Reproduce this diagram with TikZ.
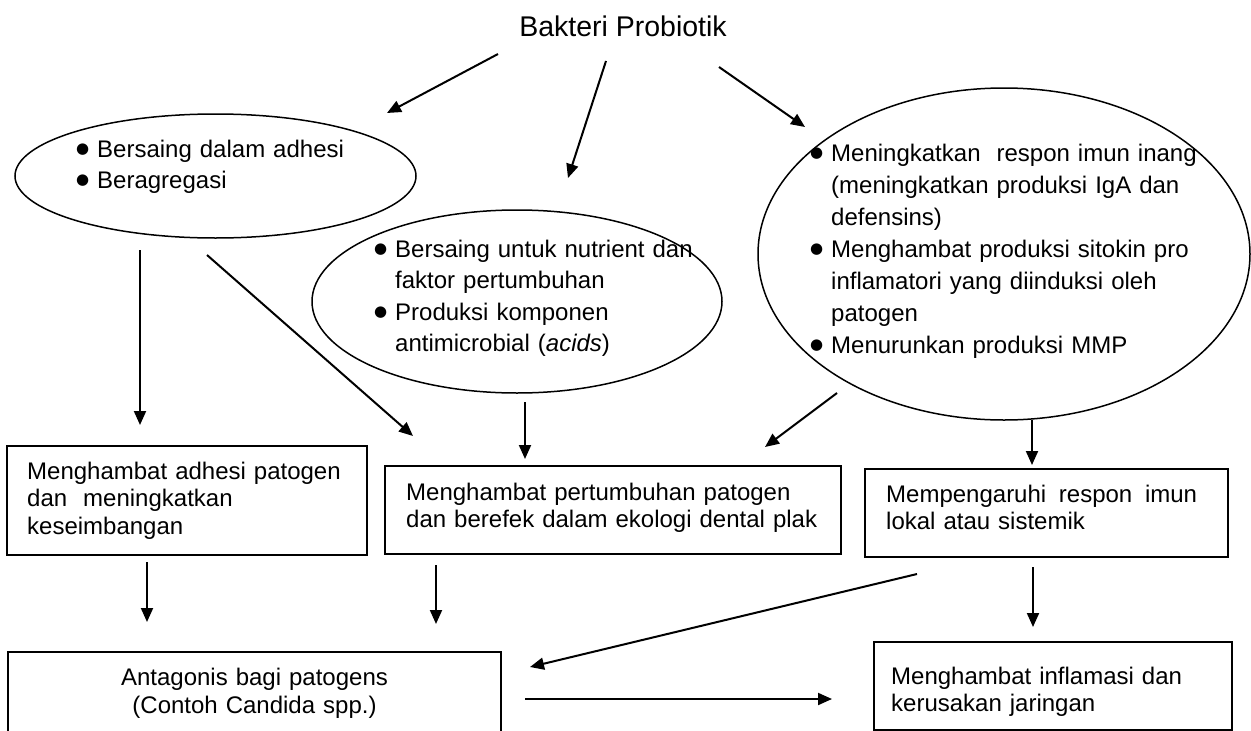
\documentclass[tikz,border=0pt]{standalone}
\usepackage{fontspec}
\setmainfont{Liberation Sans}
\newfontfamily\bulfont{DejaVu Sans}
\usetikzlibrary{arrows.meta,shapes.geometric}
\newcommand\bl{\makebox[19pt][l]{\hspace*{-2pt}\raisebox{3.5pt}{\fontsize{15}{15}\bulfont ●}}}
\newcommand\ind{\hspace*{19pt}}
\begin{document}
\begin{tikzpicture}[x=1pt,y=-1pt,
  ell/.style={draw, ellipse, line width=1.5pt, inner sep=0pt},
  box/.style={draw, rectangle, line width=1.5pt, inner sep=0pt},
  etxt/.style={inner sep=0pt, anchor=base west, text width=440pt, align=left},
  btxt/.style={inner sep=0pt, anchor=base west, text width=440pt, align=left, font=\fontsize{24}{27.5}\selectfont},
  arr/.style={line width=2pt, -{Triangle[length=14pt,width=12pt]}}]
\useasboundingbox (0,0) rectangle (1251,731);
\clip (0,0) rectangle (1251,731);

% title
\node[anchor=base, inner sep=0pt, font=\fontsize{28.5}{34}\selectfont] (title) at (623,36) {Bakteri Probiotik};

% ellipses
\node[ell, minimum width=401pt, minimum height=124pt] (e1) at (215.5,176) {};
\node[ell, minimum width=410pt, minimum height=183pt] (e2) at (517,301.5) {};
\node[ell, minimum width=492pt, minimum height=332pt] (e3) at (1004,254) {};

\node[etxt, font=\fontsize{24}{31}\selectfont] (t1) at (78,157) {\bl Bersaing dalam adhesi\\\bl Beragregasi};
\node[etxt, font=\fontsize{24}{31.5}\selectfont] (t2) at (376,257) {\bl Bersaing untuk nutrient dan\\\ind faktor pertumbuhan\\\bl Produksi komponen\\\ind antimicrobial (\textit{acids})};
\node[etxt, font=\fontsize{24}{32}\selectfont] (t3) at (812,161) {\bl Meningkatkan~ respon imun inang\\\ind (meningkatkan produksi IgA dan\\\ind defensins)\\\bl Menghambat produksi sitokin pro\\\ind inflamatori yang diinduksi oleh\\\ind patogen\\\bl Menurunkan produksi MMP};

% boxes
\node[box, minimum width=360pt, minimum height=109pt] (b1) at (187,500.5) {};
\node[box, minimum width=456pt, minimum height=88pt] (b2) at (613,510) {};
\node[box, minimum width=363pt, minimum height=88pt] (b3) at (1046.5,513) {};
\node[box, minimum width=493pt, minimum height=88pt] (b4) at (254.5,696) {};
\node[box, minimum width=358pt, minimum height=88pt] (b5) at (1053,686) {};

\node[btxt] (tb1) at (27,479) {Menghambat adhesi patogen\\dan~ meningkatkan\\keseimbangan};
\node[btxt] (tb2) at (406,500) {Menghambat pertumbuhan patogen\\dan berefek dalam ekologi dental plak};
\node[btxt] (tb3) at (886,502) {Mempengaruhi\hspace{12.7pt}respon\hspace{12.7pt}imun\\lokal atau sistemik};
\node[inner sep=0pt, anchor=base, text width=480pt, align=center, font=\fontsize{24}{28}\selectfont] (tb4) at (254.5,685) {Antagonis bagi patogens\\(Contoh Candida spp.)};
\node[btxt] (tb5) at (891,684) {Menghambat inflamasi dan\\kerusakan jaringan};

% arrow end points
\coordinate (a1s) at (498,54);   \coordinate (a1e) at (387,113);
\coordinate (a2s) at (606,61);   \coordinate (a2e) at (568,178);
\coordinate (a3s) at (719,67);   \coordinate (a3e) at (805,127);
\coordinate (a4s) at (140,250);  \coordinate (a4e) at (140,425);
\coordinate (a5s) at (207,255);  \coordinate (a5e) at (413,436);
\coordinate (a6s) at (525,402);  \coordinate (a6e) at (525,459);
\coordinate (a7s) at (837,393);  \coordinate (a7e) at (765,447);
\coordinate (a8s) at (1032,420); \coordinate (a8e) at (1032,465);
\coordinate (a9s) at (147,562);  \coordinate (a9e) at (147,622);
\coordinate (a10s) at (436,565); \coordinate (a10e) at (436,624);
\coordinate (a11s) at (917,574); \coordinate (a11e) at (530,667);
\coordinate (a12s) at (1033,567);\coordinate (a12e) at (1033,627);
\coordinate (a13s) at (525,699); \coordinate (a13e) at (832,699);

\foreach \i in {1,...,13} {\draw[arr] (a\i s) -- (a\i e);}
\end{tikzpicture}
\end{document}
